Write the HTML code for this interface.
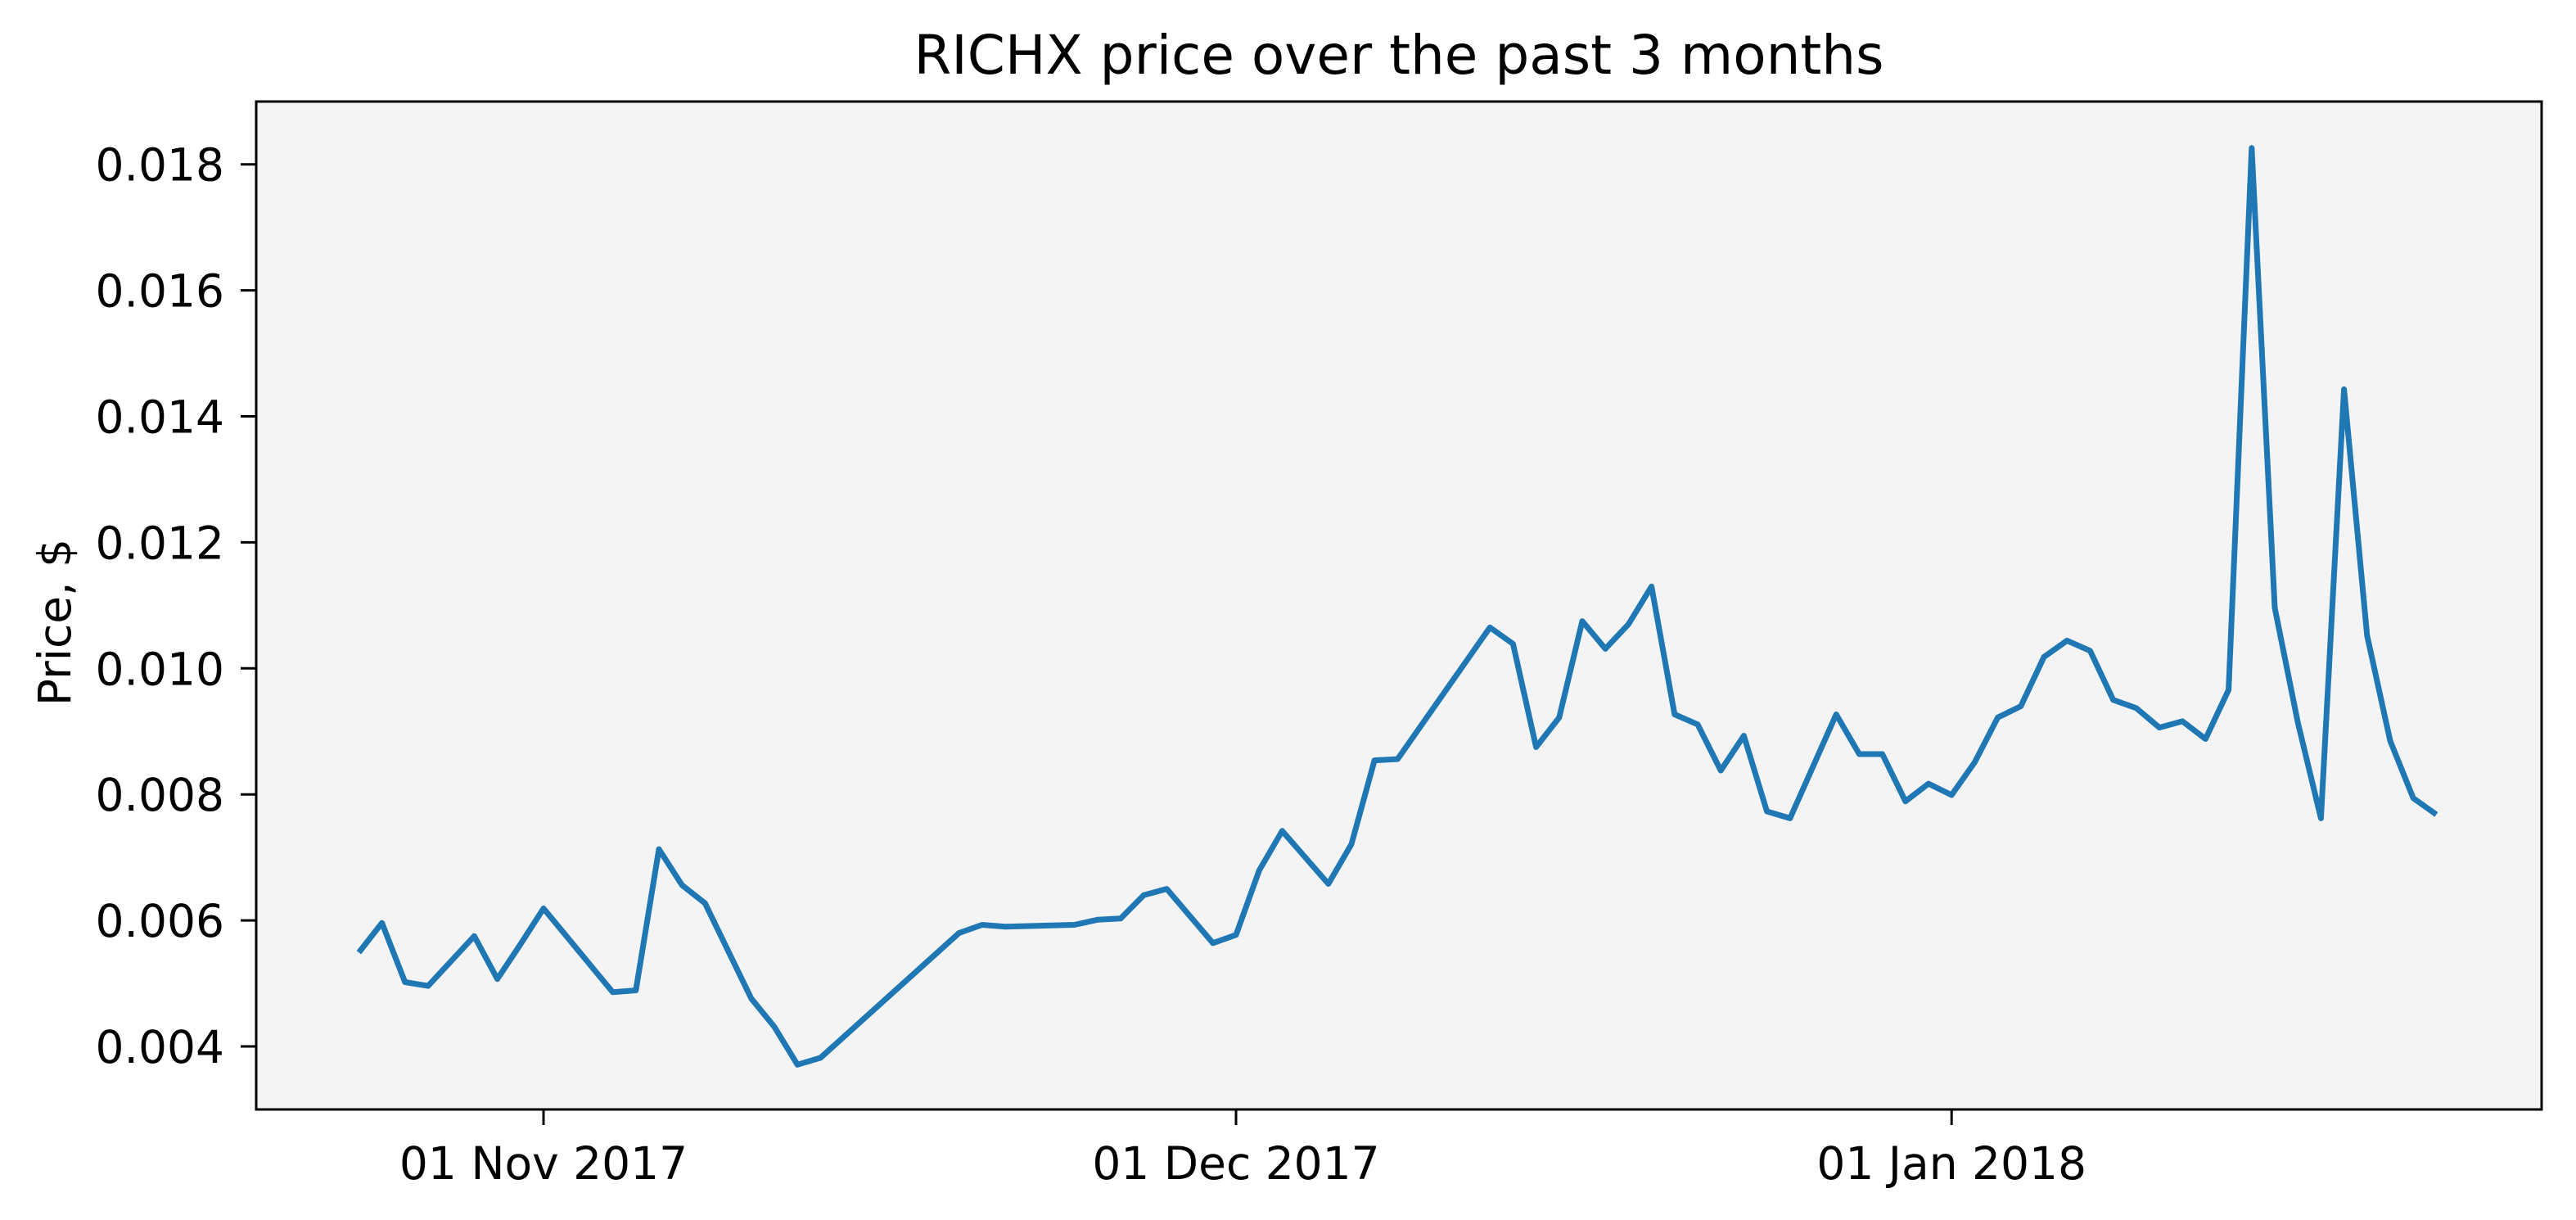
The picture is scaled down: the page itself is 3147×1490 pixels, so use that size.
<!DOCTYPE html>
<html><head><meta charset="utf-8"><style>
html,body{margin:0;padding:0;background:#fff;}
svg{display:block;font-family:"DejaVu Sans","Liberation Sans",sans-serif;}
</style></head><body>
<svg id="chart" width="3147" height="1490" viewBox="0 0 3147 1490" xmlns="http://www.w3.org/2000/svg">
<rect x="0" y="0" width="3147" height="1490" fill="#fff"/>
<rect x="313" y="124" width="2792" height="1231" fill="#f4f4f4"/>
<text x="1709" y="90" font-size="66" text-anchor="middle" fill="#000">RICHX price over the past 3 months</text>
<text transform="translate(86,760) rotate(-90)" font-size="55" text-anchor="middle" fill="#000">Price, $</text>
<g id="ticks"></g>
<path id="line" fill="none" stroke="#1f77b4" stroke-width="7" stroke-linejoin="round"/>
<rect x="313" y="124" width="2792" height="1231" fill="none" stroke="#000" stroke-width="3"/>
</svg>
<script>
// days relative to 01 Nov 2017
const days = [-8,-7,-6,-5,-3,-2,-1,0,3,4,5,6,7,9,10,11,12,18,19,20,23,24,25,26,27,29,30,31,32,34,35,36,37,41,42,43,44,45,46,47,48,49,50,51,52,53,54,56,57,58,59,60,61,62,63,64,65,66,67,68,69,70,71,72,73,74,75,76,77,78,79,80,81,82];
const prices = [0.00549,0.00596,0.00502,0.00496,0.00575,0.00507,0.00562,0.00619,0.00486,0.00489,0.00713,0.00656,0.00627,0.00476,0.00431,0.00371,0.00382,0.0058,0.00593,0.0059,0.00593,0.00601,0.00603,0.0064,0.0065,0.00564,0.00577,0.00679,0.00742,0.00658,0.00721,0.00854,0.00856,0.01065,0.01039,0.00875,0.00922,0.01075,0.01031,0.0107,0.0113,0.00927,0.00911,0.00838,0.00893,0.00773,0.00762,0.00927,0.00864,0.00864,0.00789,0.00817,0.00799,0.00851,0.00922,0.0094,0.01018,0.01044,0.01028,0.0095,0.00937,0.00906,0.00916,0.00888,0.00966,0.01826,0.01096,0.00914,0.00762,0.01443,0.01052,0.00885,0.00794,0.00768];
const yTicks = [0.004,0.006,0.008,0.010,0.012,0.014,0.016,0.018];
const xTickDays = [0,30,61];
const xTickLabels = ["01 Nov 2017","01 Dec 2017","01 Jan 2018"];

function xs(d){return 664 + d*28.2;}
function ys(v){return 1278 - (v-0.004)/0.002*153.9;}
const NS="http://www.w3.org/2000/svg";
const g=document.getElementById('ticks');
yTicks.forEach(v=>{
  const y=ys(v);
  const l=document.createElementNS(NS,'line');
  l.setAttribute('x1',294);l.setAttribute('x2',313);l.setAttribute('y1',y);l.setAttribute('y2',y);
  l.setAttribute('stroke','#000');l.setAttribute('stroke-width',3);
  
  
  g.appendChild(l);
  const t=document.createElementNS(NS,'text');
  t.setAttribute('x',274);t.setAttribute('y',y+20);t.setAttribute('text-anchor','end');t.setAttribute('font-size',55);
  t.textContent=v.toFixed(3);
  
  
  g.appendChild(t);
});
xTickDays.forEach((d,i)=>{
  const x=xs(d);
  const l=document.createElementNS(NS,'line');
  l.setAttribute('x1',x);l.setAttribute('x2',x);l.setAttribute('y1',1355);l.setAttribute('y2',1374);
  l.setAttribute('stroke','#000');l.setAttribute('stroke-width',3);
  
  
  g.appendChild(l);
  const t=document.createElementNS(NS,'text');
  t.setAttribute('x',x);t.setAttribute('y',1440);t.setAttribute('text-anchor','middle');t.setAttribute('font-size',55);
  t.textContent=xTickLabels[i];
  
  
  g.appendChild(t);
});
document.getElementById('line').setAttribute('d',days.map((d,i)=>(i?'L':'M')+xs(d).toFixed(1)+','+ys(prices[i]).toFixed(1)).join(''));
</script>
</body></html>
